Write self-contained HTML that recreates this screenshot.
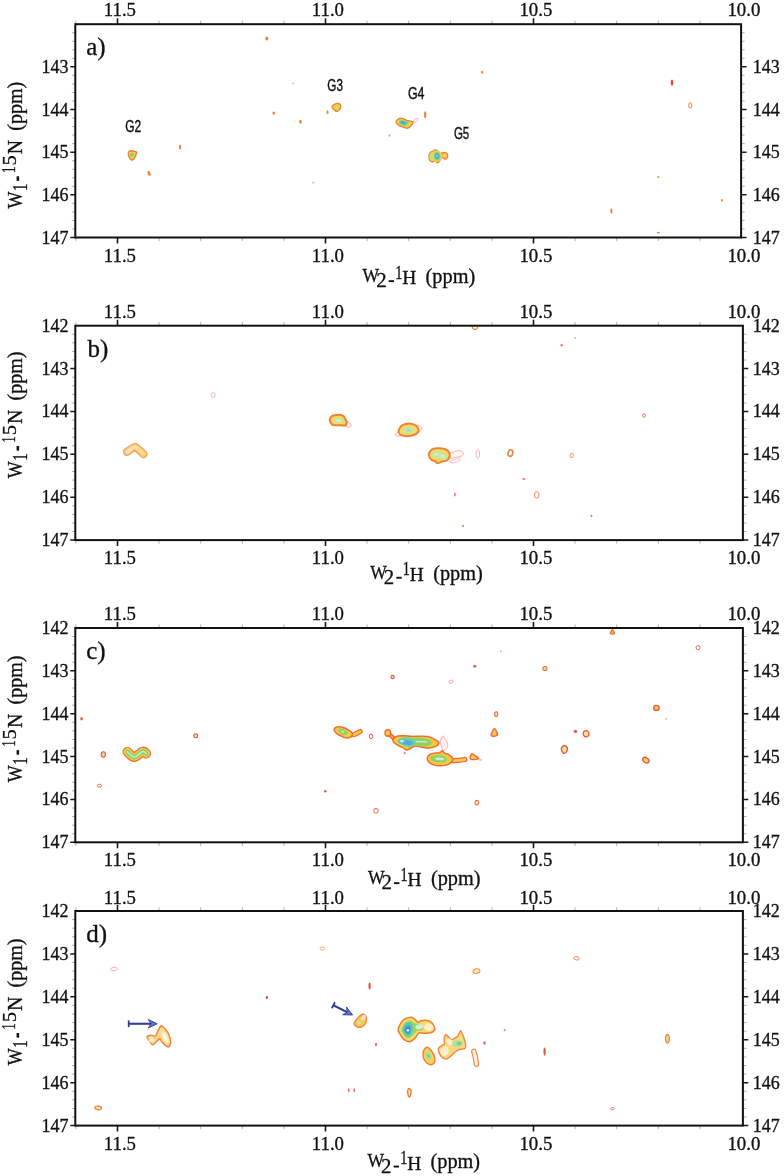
<!DOCTYPE html>
<html><head><meta charset="utf-8"><title>NMR spectra</title>
<style>html,body{margin:0;padding:0;background:#fff;}body{width:784px;height:1176px;overflow:hidden;font-family:"Liberation Serif",serif;}svg{filter:blur(0.35px);}svg text{fill:#111;stroke:#111;stroke-width:0.32px;}</style>
</head><body>
<svg width="784" height="1176" viewBox="0 0 784 1176" fill="#111" style="display:block">
<defs><filter id="pb" x="-5%" y="-5%" width="110%" height="110%"><feGaussianBlur stdDeviation="0.45"/></filter></defs>
<g filter="url(#pb)">
<ellipse cx="266.80" cy="38.60" rx="1.45" ry="2.05" fill="#ee822f" stroke="none" stroke-width="1" opacity="1"/>
<ellipse cx="273.80" cy="113.00" rx="1.35" ry="1.55" fill="#ee822f" stroke="none" stroke-width="1" opacity="1"/>
<ellipse cx="293.20" cy="83.50" rx="0.85" ry="0.95" fill="#c9b8b0" stroke="none" stroke-width="1" opacity="1"/>
<path d="M128.31 154.05C128.21 153.11 128.44 152.17 128.87 151.67C129.30 151.17 130.37 150.78 131.18 150.73C131.98 150.67 133.41 151.08 134.24 151.31C135.06 151.55 136.50 151.59 136.69 152.29C136.88 153.00 135.91 155.01 135.50 156.02C135.08 157.03 134.50 158.45 133.90 159.04C133.31 159.64 132.17 160.13 131.52 159.97C130.87 159.81 130.04 158.87 129.56 157.98C129.08 157.09 128.42 155.00 128.31 154.05Z" fill="#f7cf4e" stroke="#ee822f" stroke-width="1.4" stroke-linejoin="round"/>
<path d="M129.90 154.45C129.85 153.96 130.01 153.49 130.24 153.23C130.47 152.98 131.01 152.77 131.43 152.74C131.85 152.71 132.59 152.93 133.00 153.06C133.42 153.18 134.10 153.23 134.20 153.59C134.30 153.96 133.89 154.97 133.68 155.48C133.47 156.00 133.14 156.72 132.82 157.01C132.51 157.31 131.95 157.54 131.61 157.47C131.27 157.39 130.83 156.97 130.57 156.52C130.32 156.07 129.95 154.94 129.90 154.45Z" fill="#96d672"/>
<path d="M130.90 154.70C130.88 154.48 130.95 154.27 131.05 154.16C131.15 154.05 131.40 153.95 131.58 153.94C131.76 153.93 132.10 154.02 132.28 154.08C132.46 154.14 132.77 154.16 132.81 154.32C132.85 154.48 132.67 154.93 132.58 155.16C132.49 155.39 132.34 155.71 132.20 155.84C132.06 155.97 131.81 156.07 131.66 156.04C131.51 156.01 131.31 155.82 131.20 155.62C131.09 155.42 130.92 154.92 130.90 154.70Z" fill="#6fcf9a"/>
<ellipse cx="180.00" cy="147.00" rx="1.05" ry="2.55" fill="#ee822f" stroke="none" stroke-width="1" opacity="1"/>
<ellipse cx="149.10" cy="173.40" rx="1.45" ry="2.45" fill="#ee822f" stroke="none" stroke-width="1" opacity="1" transform="rotate(-20 149.10 173.40)"/>
<text x="125.20" y="132.00" font-size="16.4" font-family='"Liberation Sans", sans-serif' textLength="16" lengthAdjust="spacingAndGlyphs" style="stroke-width:0.4px">G2</text>
<text x="327.30" y="90.60" font-size="16.4" font-family='"Liberation Sans", sans-serif' textLength="15.6" lengthAdjust="spacingAndGlyphs" style="stroke-width:0.4px">G3</text>
<text x="407.90" y="99.30" font-size="16.4" font-family='"Liberation Sans", sans-serif' textLength="16.6" lengthAdjust="spacingAndGlyphs" style="stroke-width:0.4px">G4</text>
<text x="453.90" y="139.30" font-size="16.4" font-family='"Liberation Sans", sans-serif' textLength="15.4" lengthAdjust="spacingAndGlyphs" style="stroke-width:0.4px">G5</text>
<path d="M332.03 107.03C332.14 106.30 333.52 104.95 334.46 104.42C335.40 103.88 337.38 103.31 338.31 103.46C339.24 103.61 340.40 104.68 340.67 105.44C340.94 106.20 340.69 107.60 340.11 108.54C339.52 109.47 337.71 111.57 336.75 111.67C335.79 111.77 334.41 109.92 333.70 109.22C333.00 108.52 331.92 107.75 332.03 107.03Z" fill="#f7cf4e" stroke="#ee822f" stroke-width="1.4" stroke-linejoin="round"/>
<path d="M334.40 107.12C334.45 106.78 335.05 106.13 335.48 105.88C335.91 105.63 336.85 105.40 337.28 105.48C337.71 105.56 338.21 106.05 338.34 106.40C338.47 106.75 338.39 107.39 338.12 107.82C337.85 108.25 337.01 109.19 336.56 109.24C336.11 109.29 335.44 108.48 335.12 108.16C334.80 107.84 334.35 107.46 334.40 107.12Z" fill="#b6e08a"/>
<ellipse cx="327.50" cy="112.20" rx="0.95" ry="1.85" fill="#ee822f" stroke="none" stroke-width="1" opacity="1"/>
<ellipse cx="300.40" cy="121.70" rx="1.25" ry="2.05" fill="#ee822f" stroke="none" stroke-width="1" opacity="1"/>
<ellipse cx="482.20" cy="72.30" rx="1.05" ry="1.55" fill="#ee822f" stroke="none" stroke-width="1" opacity="1"/>
<path d="M396.03 122.14C395.89 121.23 397.11 119.83 398.02 119.25C398.94 118.68 400.82 118.16 402.13 118.32C403.44 118.48 405.13 119.75 406.76 120.33C408.39 120.90 412.43 121.23 412.97 122.13C413.51 123.03 411.24 125.38 410.34 126.32C409.43 127.25 408.06 128.30 406.94 128.38C405.83 128.46 404.12 127.32 402.91 126.87C401.71 126.42 399.96 126.06 398.92 125.35C397.89 124.64 396.16 123.06 396.03 122.14Z" fill="#f7cf4e" stroke="#ee822f" stroke-width="1.4" stroke-linejoin="round"/>
<path d="M398.44 122.30C398.36 121.69 399.11 120.78 399.70 120.38C400.29 119.98 401.52 119.56 402.40 119.66C403.28 119.76 404.54 120.64 405.58 121.04C406.62 121.44 409.04 121.71 409.36 122.30C409.68 122.89 408.31 124.39 407.74 125.00C407.17 125.61 406.30 126.30 405.58 126.38C404.86 126.46 403.74 125.83 402.94 125.54C402.14 125.25 400.92 124.95 400.24 124.46C399.56 123.97 398.52 122.91 398.44 122.30Z" fill="#96d672"/>
<path d="M399.96 122.40C399.91 121.99 400.40 121.38 400.80 121.12C401.20 120.86 402.01 120.57 402.60 120.64C403.19 120.71 404.02 121.30 404.72 121.56C405.42 121.82 407.02 122.00 407.24 122.40C407.46 122.80 406.54 123.79 406.16 124.20C405.78 124.61 405.20 125.07 404.72 125.12C404.24 125.17 403.49 124.75 402.96 124.56C402.43 124.37 401.61 124.16 401.16 123.84C400.71 123.52 400.01 122.81 399.96 122.40Z" fill="#52c8b4"/>
<path d="M401.48 122.50C401.45 122.30 401.70 121.99 401.90 121.86C402.10 121.73 402.51 121.59 402.80 121.62C403.09 121.65 403.51 121.95 403.86 122.08C404.21 122.21 405.01 122.30 405.12 122.50C405.23 122.70 404.77 123.20 404.58 123.40C404.39 123.60 404.10 123.83 403.86 123.86C403.62 123.89 403.25 123.68 402.98 123.58C402.71 123.48 402.31 123.38 402.08 123.22C401.85 123.06 401.51 122.70 401.48 122.50Z" fill="#4a9ae0"/>
<ellipse cx="415.80" cy="120.40" rx="2.70" ry="1.40" fill="none" stroke="#f29aa6" stroke-width="0.7" opacity="1" transform="rotate(-35 415.80 120.40)"/>
<ellipse cx="425.20" cy="114.80" rx="1.15" ry="3.55" fill="#ee822f" stroke="none" stroke-width="1" opacity="1"/>
<ellipse cx="389.50" cy="135.50" rx="0.95" ry="1.25" fill="#f29aa6" stroke="none" stroke-width="1" opacity="1"/>
<path d="M428.98 155.73C429.05 154.64 429.84 152.98 430.43 152.35C431.02 151.72 432.73 151.38 433.41 151.02C434.09 150.66 434.91 149.61 435.54 149.63C436.17 149.66 437.50 150.71 438.14 151.18C438.77 151.66 439.61 152.99 440.29 153.20C440.97 153.40 442.44 152.78 443.22 152.74C444.01 152.70 445.56 152.59 446.16 152.93C446.76 153.26 447.65 154.50 447.72 155.26C447.78 156.02 447.05 158.12 446.64 158.63C446.23 159.14 445.27 159.26 444.67 159.05C444.07 158.84 442.71 156.96 442.13 157.06C441.55 157.16 440.93 159.01 440.33 159.78C439.74 160.55 438.34 162.68 437.67 162.82C437.00 162.96 436.04 160.94 435.33 160.81C434.61 160.69 433.05 161.94 432.33 161.90C431.61 161.86 430.37 161.36 429.92 160.53C429.47 159.71 428.92 156.82 428.98 155.73Z" fill="#f7b84a" stroke="#ee822f" stroke-width="1.3" stroke-linejoin="round"/>
<ellipse cx="444.60" cy="155.40" rx="2.40" ry="2.00" fill="#f9cc5a" stroke="none" stroke-width="1" opacity="1"/>
<ellipse cx="436.20" cy="156.20" rx="6.00" ry="5.60" fill="#f7cf4e" stroke="none" stroke-width="1" opacity="1"/>
<ellipse cx="431.60" cy="156.80" rx="2.20" ry="4.00" fill="#c8e070" stroke="none" stroke-width="1" opacity="1"/>
<ellipse cx="437.20" cy="156.20" rx="3.40" ry="4.40" fill="#96d672" stroke="none" stroke-width="1" opacity="1"/>
<ellipse cx="437.20" cy="156.20" rx="2.50" ry="3.40" fill="#52c8b4" stroke="none" stroke-width="1" opacity="1"/>
<ellipse cx="437.00" cy="156.20" rx="1.60" ry="2.30" fill="#4a9ae0" stroke="none" stroke-width="1" opacity="1"/>
<ellipse cx="437.00" cy="156.20" rx="0.70" ry="0.90" fill="#d8ecff" stroke="none" stroke-width="1" opacity="1"/>
<ellipse cx="313.20" cy="182.70" rx="0.85" ry="0.95" fill="#f29aa6" stroke="none" stroke-width="1" opacity="1"/>
<ellipse cx="672.00" cy="82.60" rx="1.35" ry="3.05" fill="#e8502e" stroke="none" stroke-width="1" opacity="1"/>
<ellipse cx="690.30" cy="105.40" rx="1.60" ry="2.70" fill="none" stroke="#ee822f" stroke-width="1.0" opacity="1"/>
<ellipse cx="658.30" cy="176.90" rx="1.05" ry="0.95" fill="#ee822f" stroke="none" stroke-width="1" opacity="1"/>
<ellipse cx="722.00" cy="200.30" rx="0.95" ry="1.35" fill="#ee822f" stroke="none" stroke-width="1" opacity="1"/>
<ellipse cx="611.40" cy="211.00" rx="1.05" ry="2.75" fill="#ee822f" stroke="none" stroke-width="1" opacity="1"/>
<ellipse cx="658.30" cy="232.60" rx="1.45" ry="0.85" fill="#ee822f" stroke="none" stroke-width="1" opacity="1"/>
<path d="M127.20 451.80C128.00 451.32 133.58 446.78 135.20 447.00C136.82 447.22 142.58 453.30 143.40 454.00" fill="none" stroke="#f29a5e" stroke-width="8.2" stroke-linecap="round" stroke-linejoin="round"/>
<path d="M127.20 451.80C128.00 451.32 133.58 446.78 135.20 447.00C136.82 447.22 142.58 453.30 143.40 454.00" fill="none" stroke="#f9cf88" stroke-width="5.8" stroke-linecap="round" stroke-linejoin="round"/>
<path d="M127.20 451.80C128.00 451.32 133.58 446.78 135.20 447.00C136.82 447.22 142.58 453.30 143.40 454.00" fill="none" stroke="#fde2ac" stroke-width="3.0" stroke-linecap="round" stroke-linejoin="round"/>
<path d="M139.50 450.40C140.15 450.97 142.75 453.23 143.40 453.80" fill="none" stroke="#f9d070" stroke-width="4.6" stroke-linecap="round" stroke-linejoin="round"/>
<path d="M139.50 450.40C140.15 450.97 142.75 453.23 143.40 453.80" fill="none" stroke="#fde09a" stroke-width="2.2" stroke-linecap="round" stroke-linejoin="round"/>
<ellipse cx="213.20" cy="395.00" rx="1.90" ry="2.40" fill="none" stroke="#f29aa6" stroke-width="0.8" opacity="1"/>
<path d="M345.60 421.00C346.33 420.63 348.07 421.77 349.00 422.40C349.93 423.03 351.03 424.05 351.20 424.80C351.37 425.55 350.80 426.57 350.00 426.90C349.20 427.23 347.30 427.18 346.40 426.80C345.50 426.42 344.73 425.57 344.60 424.60C344.47 423.63 344.87 421.37 345.60 421.00Z" fill="#fff6ee" stroke="#f29aa6" stroke-width="0.9" stroke-linecap="round"/>
<path d="M329.88 418.88C330.12 417.72 331.19 416.49 332.22 415.84C333.25 415.20 334.77 415.22 336.06 415.02C337.35 414.83 338.75 414.52 339.98 414.67C341.21 414.82 342.52 415.15 343.45 415.92C344.37 416.68 344.97 418.13 345.52 419.27C346.06 420.41 346.74 421.75 346.73 422.77C346.72 423.79 346.08 424.94 345.46 425.39C344.84 425.83 344.22 425.47 342.99 425.44C341.76 425.41 339.70 425.24 338.08 425.20C336.46 425.16 334.49 425.61 333.28 425.20C332.06 424.80 331.33 423.81 330.77 422.76C330.20 421.70 329.64 420.03 329.88 418.88Z" fill="#f9d864" stroke="#ee8236" stroke-width="2.0" stroke-linejoin="round"/>
<ellipse cx="338.60" cy="420.70" rx="5.00" ry="2.50" fill="#c2e6a4" stroke="none" stroke-width="1" opacity="1"/>
<ellipse cx="338.60" cy="420.70" rx="2.80" ry="1.00" fill="#dcf2d0" stroke="none" stroke-width="1" opacity="1"/>
<path d="M395.30 435.20C395.30 434.53 397.72 432.12 399.00 432.00C400.28 431.88 403.00 433.83 403.00 434.50C403.00 435.17 400.28 435.88 399.00 436.00C397.72 436.12 395.30 435.87 395.30 435.20Z" fill="none" stroke="#f29aa6" stroke-width="0.8" stroke-linecap="round"/>
<path d="M416.00 425.40C416.75 424.43 419.53 425.60 420.50 426.20C421.47 426.80 422.05 428.03 421.80 429.00C421.55 429.97 419.97 431.50 419.00 432.00C418.03 432.50 416.50 433.10 416.00 432.00C415.50 430.90 415.25 426.37 416.00 425.40Z" fill="#fff6ee" stroke="#f29aa6" stroke-width="0.8" stroke-linecap="round"/>
<path d="M398.49 431.39C398.60 430.03 399.66 427.63 400.81 426.39C401.96 425.16 403.76 424.46 405.41 424.00C407.06 423.54 409.00 423.41 410.72 423.66C412.45 423.91 414.42 424.51 415.75 425.49C417.08 426.48 418.56 428.20 418.70 429.56C418.84 430.92 417.91 432.61 416.57 433.64C415.24 434.68 412.69 435.35 410.68 435.76C408.67 436.16 406.26 436.26 404.51 436.06C402.77 435.87 401.20 435.36 400.20 434.58C399.19 433.81 398.39 432.76 398.49 431.39Z" fill="#f9d864" stroke="#ee8236" stroke-width="2.0" stroke-linejoin="round"/>
<path d="M403.54 430.80C403.59 430.11 404.08 428.90 404.64 428.27C405.21 427.63 406.10 427.23 406.94 426.98C407.79 426.73 408.82 426.66 409.70 426.80C410.59 426.93 411.57 427.29 412.23 427.81C412.89 428.32 413.59 429.19 413.66 429.88C413.73 430.57 413.31 431.40 412.65 431.95C411.99 432.49 410.73 432.93 409.70 433.14C408.68 433.36 407.37 433.36 406.48 433.24C405.59 433.11 404.86 432.81 404.37 432.41C403.88 432.00 403.49 431.49 403.54 430.80Z" fill="#c2e6a4"/>
<path d="M406.40 430.46C406.42 430.16 406.63 429.64 406.88 429.36C407.13 429.08 407.51 428.91 407.88 428.80C408.25 428.69 408.70 428.66 409.08 428.72C409.46 428.78 409.89 428.94 410.18 429.16C410.47 429.38 410.77 429.76 410.80 430.06C410.83 430.36 410.65 430.72 410.36 430.96C410.07 431.20 409.53 431.39 409.08 431.48C408.63 431.57 408.07 431.57 407.68 431.52C407.29 431.47 406.97 431.34 406.76 431.16C406.55 430.98 406.38 430.76 406.40 430.46Z" fill="#a8dcc0"/>
<path d="M450.00 453.50C450.50 452.38 452.58 452.28 454.00 451.80C455.42 451.32 457.10 450.60 458.50 450.60C459.90 450.60 461.62 451.13 462.40 451.80C463.18 452.47 463.60 453.77 463.20 454.60C462.80 455.43 461.37 456.33 460.00 456.80C458.63 457.27 456.50 457.12 455.00 457.40C453.50 457.68 451.83 459.15 451.00 458.50C450.17 457.85 449.50 454.62 450.00 453.50Z" fill="#fff6ee" stroke="#f29aa6" stroke-width="0.8" stroke-linecap="round"/>
<path d="M450.00 461.50C450.40 460.97 452.57 460.28 454.00 459.80C455.43 459.32 457.53 458.57 458.60 458.60C459.67 458.63 460.83 459.43 460.40 460.00C459.97 460.57 457.47 461.50 456.00 462.00C454.53 462.50 452.60 463.08 451.60 463.00C450.60 462.92 449.60 462.03 450.00 461.50Z" fill="none" stroke="#f29aa6" stroke-width="0.7" stroke-linecap="round"/>
<path d="M428.90 455.02C428.77 453.55 429.47 451.88 430.40 450.80C431.34 449.72 432.93 448.95 434.52 448.54C436.10 448.12 438.10 448.18 439.91 448.30C441.71 448.41 443.82 448.54 445.35 449.23C446.89 449.92 448.44 451.17 449.13 452.44C449.83 453.71 449.89 455.52 449.51 456.86C449.13 458.20 448.17 459.70 446.86 460.49C445.55 461.27 443.19 461.09 441.67 461.56C440.16 462.03 438.85 463.37 437.76 463.31C436.66 463.26 436.20 461.88 435.10 461.25C434.01 460.63 432.22 460.61 431.19 459.57C430.16 458.53 429.03 456.48 428.90 455.02Z" fill="#f9d864" stroke="#ee8236" stroke-width="2.0" stroke-linejoin="round"/>
<ellipse cx="436.20" cy="454.40" rx="4.20" ry="3.60" fill="#c2e6a4" stroke="none" stroke-width="1" opacity="1" transform="rotate(10 436.20 454.40)"/>
<ellipse cx="442.60" cy="456.00" rx="4.20" ry="3.50" fill="#c2e6a4" stroke="none" stroke-width="1" opacity="1" transform="rotate(10 442.60 456.00)"/>
<ellipse cx="436.40" cy="454.40" rx="1.80" ry="1.40" fill="#d8f0d0" stroke="none" stroke-width="1" opacity="1"/>
<ellipse cx="442.80" cy="456.00" rx="1.80" ry="1.40" fill="#d8f0d0" stroke="none" stroke-width="1" opacity="1"/>
<path d="M472.2 326.6 A2.8 2.8 0 0 0 477.8 326.6" fill="none" stroke="#ee8a3a" stroke-width="1.1"/>
<ellipse cx="561.70" cy="345.20" rx="1.25" ry="1.25" fill="#ee7a6a" stroke="none" stroke-width="1" opacity="1"/>
<ellipse cx="575.30" cy="337.90" rx="0.85" ry="0.85" fill="#f29aa6" stroke="none" stroke-width="1" opacity="1"/>
<ellipse cx="643.90" cy="415.50" rx="1.40" ry="1.80" fill="none" stroke="#e5583a" stroke-width="0.8" opacity="1"/>
<ellipse cx="477.80" cy="454.00" rx="1.80" ry="4.20" fill="none" stroke="#f29aa6" stroke-width="0.8" opacity="1"/>
<ellipse cx="510.40" cy="453.10" rx="2.30" ry="3.30" fill="none" stroke="#e8803a" stroke-width="1.5" opacity="1" transform="rotate(15 510.40 453.10)"/>
<ellipse cx="571.60" cy="455.50" rx="1.60" ry="2.20" fill="none" stroke="#ee7a6a" stroke-width="0.8" opacity="1" transform="rotate(15 571.60 455.50)"/>
<ellipse cx="523.90" cy="479.00" rx="1.55" ry="0.95" fill="#ee7a6a" stroke="none" stroke-width="1" opacity="1"/>
<ellipse cx="536.70" cy="494.90" rx="2.30" ry="3.30" fill="none" stroke="#ee7a5a" stroke-width="0.9" opacity="1"/>
<ellipse cx="454.90" cy="494.50" rx="0.85" ry="1.95" fill="#ee7a6a" stroke="none" stroke-width="1" opacity="1"/>
<ellipse cx="591.40" cy="515.90" rx="1.05" ry="1.15" fill="#ee7a6a" stroke="none" stroke-width="1" opacity="1"/>
<ellipse cx="463.00" cy="526.10" rx="1.05" ry="1.15" fill="#ee7a6a" stroke="none" stroke-width="1" opacity="1"/>
<ellipse cx="81.50" cy="718.80" rx="1.25" ry="1.75" fill="#e5583a" stroke="none" stroke-width="1" opacity="1"/>
<ellipse cx="103.30" cy="754.50" rx="2.15" ry="2.75" fill="#fbd2a8" stroke="#e5583a" stroke-width="1.1" opacity="1"/>
<ellipse cx="99.40" cy="785.70" rx="2.00" ry="1.50" fill="none" stroke="#e5583a" stroke-width="0.9" opacity="1"/>
<path d="M127.40 751.80C128.53 752.67 131.67 757.03 134.20 757.00C136.73 756.97 140.60 752.17 142.60 751.60C144.60 751.03 145.60 753.27 146.20 753.60" fill="none" stroke="#ec6a34" stroke-width="9.8" stroke-linecap="round" stroke-linejoin="round"/>
<path d="M127.40 751.80C128.53 752.67 131.67 757.03 134.20 757.00C136.73 756.97 140.60 752.17 142.60 751.60C144.60 751.03 145.60 753.27 146.20 753.60" fill="none" stroke="#f6c93f" stroke-width="7.6" stroke-linecap="round" stroke-linejoin="round"/>
<path d="M127.40 751.80C128.53 752.67 131.67 757.03 134.20 757.00C136.73 756.97 140.60 752.17 142.60 751.60C144.60 751.03 145.60 753.27 146.20 753.60" fill="none" stroke="#8fd16a" stroke-width="4.8" stroke-linecap="round" stroke-linejoin="round"/>
<path d="M127.40 751.80C128.53 752.67 131.67 757.03 134.20 757.00C136.73 756.97 140.60 752.17 142.60 751.60C144.60 751.03 145.60 753.27 146.20 753.60" fill="none" stroke="#c6ecc4" stroke-width="1.6" stroke-linecap="round" stroke-linejoin="round"/>
<ellipse cx="195.70" cy="735.80" rx="1.95" ry="1.95" fill="#fde4d0" stroke="#e5583a" stroke-width="1.1" opacity="1"/>
<ellipse cx="392.60" cy="677.00" rx="1.65" ry="1.65" fill="#fde4d0" stroke="#e5583a" stroke-width="1.1" opacity="1"/>
<path d="M338.40 729.60C339.55 730.21 344.92 733.53 347.00 734.20C349.08 734.87 352.24 734.97 354.00 734.60C355.76 734.23 359.37 731.83 360.20 731.40" fill="none" stroke="#ec6a34" stroke-width="5.0" stroke-linecap="round" stroke-linejoin="round"/>
<path d="M338.40 729.60C339.55 730.21 344.92 733.53 347.00 734.20C349.08 734.87 352.24 734.97 354.00 734.60C355.76 734.23 359.37 731.83 360.20 731.40" fill="none" stroke="#f6c93f" stroke-width="2.8" stroke-linecap="round" stroke-linejoin="round"/>
<path d="M334.01 729.55C334.09 728.45 335.73 727.20 337.08 726.81C338.42 726.43 340.35 726.82 342.08 727.23C343.80 727.64 345.78 728.39 347.43 729.27C349.08 730.16 351.30 731.37 351.97 732.54C352.64 733.71 352.33 735.38 351.44 736.30C350.56 737.23 348.37 738.08 346.66 738.07C344.95 738.05 342.86 736.97 341.19 736.20C339.51 735.42 337.80 734.53 336.60 733.42C335.41 732.31 333.93 730.65 334.01 729.55Z" fill="#f6c93f" stroke="#ec6a34" stroke-width="1.4" stroke-linejoin="round"/>
<path d="M338.00 730.50C338.05 729.90 338.88 729.23 339.60 729.00C340.32 728.77 341.35 728.88 342.30 729.10C343.25 729.32 344.42 729.80 345.30 730.30C346.18 730.80 347.27 731.47 347.60 732.10C347.93 732.73 347.77 733.60 347.30 734.10C346.83 734.60 345.72 735.08 344.80 735.10C343.88 735.12 342.72 734.62 341.80 734.20C340.88 733.78 339.93 733.22 339.30 732.60C338.67 731.98 337.95 731.10 338.00 730.50Z" fill="#8fd16a"/>
<path d="M341.13 731.25C341.14 731.06 341.41 730.84 341.64 730.77C341.87 730.69 342.20 730.73 342.50 730.80C342.81 730.87 343.18 731.02 343.46 731.18C343.75 731.34 344.09 731.56 344.20 731.76C344.31 731.96 344.25 732.24 344.10 732.40C343.95 732.56 343.60 732.71 343.30 732.72C343.01 732.73 342.64 732.57 342.34 732.43C342.05 732.30 341.75 732.12 341.54 731.92C341.34 731.72 341.11 731.44 341.13 731.25Z" fill="#d0efc8"/>
<ellipse cx="371.00" cy="736.40" rx="1.70" ry="2.40" fill="none" stroke="#e5583a" stroke-width="1.0" opacity="1"/>
<ellipse cx="325.30" cy="791.20" rx="1.25" ry="1.25" fill="#e5583a" stroke="none" stroke-width="1" opacity="1"/>
<ellipse cx="376.00" cy="810.80" rx="2.20" ry="2.40" fill="none" stroke="#e8603a" stroke-width="1.0" opacity="1"/>
<path d="M441.50 738.00C442.07 736.97 442.88 735.70 443.40 735.80C443.92 735.90 444.07 737.73 444.60 738.60C445.13 739.47 446.07 739.87 446.60 741.00C447.13 742.13 447.90 744.00 447.80 745.40C447.70 746.80 446.80 748.63 446.00 749.40C445.20 750.17 443.77 750.57 443.00 750.00C442.23 749.43 441.90 747.33 441.40 746.00C440.90 744.67 439.98 743.33 440.00 742.00C440.02 740.67 440.93 739.03 441.50 738.00Z" fill="#fdeef0" stroke="#f6a8b0" stroke-width="0.9" stroke-linecap="round"/>
<path d="M387.80 733.00C388.18 733.34 390.83 735.75 391.60 736.40C392.37 737.05 395.11 739.19 395.50 739.50" fill="none" stroke="#ec6a34" stroke-width="4.4" stroke-linecap="round" stroke-linejoin="round"/>
<path d="M387.80 733.00C388.18 733.34 390.83 735.75 391.60 736.40C392.37 737.05 395.11 739.19 395.50 739.50" fill="none" stroke="#f6b040" stroke-width="1.6" stroke-linecap="round" stroke-linejoin="round"/>
<ellipse cx="387.80" cy="733.00" rx="3.50" ry="3.90" fill="#ec6a34" stroke="none" stroke-width="1" opacity="1"/>
<ellipse cx="387.80" cy="733.00" rx="2.20" ry="2.60" fill="#f8c850" stroke="none" stroke-width="1" opacity="1"/>
<path d="M393.03 741.04C392.76 739.68 394.02 737.66 395.61 736.77C397.20 735.88 399.78 735.76 402.56 735.69C405.34 735.62 409.29 736.29 412.30 736.35C415.31 736.42 418.08 736.07 420.60 736.09C423.12 736.11 425.30 736.04 427.43 736.48C429.56 736.92 431.46 737.70 433.38 738.72C435.30 739.74 438.64 741.30 438.97 742.59C439.30 743.88 436.98 745.58 435.38 746.47C433.79 747.37 431.73 747.84 429.42 747.96C427.10 748.08 423.96 747.50 421.51 747.20C419.06 746.91 416.58 745.96 414.72 746.18C412.87 746.40 411.71 747.88 410.40 748.51C409.09 749.15 408.11 750.11 406.87 749.98C405.63 749.85 404.59 748.59 402.98 747.75C401.37 746.90 398.88 746.03 397.22 744.91C395.57 743.79 393.30 742.39 393.03 741.04Z" fill="#f6c93f" stroke="#ec6a34" stroke-width="1.4" stroke-linejoin="round"/>
<path d="M398.45 741.34C398.26 740.33 399.17 738.84 400.32 738.17C401.47 737.50 403.32 737.40 405.36 737.30C407.40 737.21 410.28 737.57 412.56 737.59C414.84 737.62 417.12 737.40 419.04 737.45C420.96 737.50 422.52 737.52 424.08 737.88C425.64 738.24 427.01 738.84 428.40 739.61C429.79 740.38 432.19 741.53 432.43 742.49C432.67 743.45 430.99 744.70 429.84 745.37C428.69 746.04 427.20 746.40 425.52 746.52C423.84 746.64 421.61 746.26 419.76 746.09C417.91 745.92 415.87 745.34 414.43 745.51C412.99 745.68 412.10 746.66 411.12 747.10C410.14 747.53 409.44 748.22 408.53 748.10C407.62 747.98 406.82 747.02 405.65 746.38C404.47 745.73 402.67 745.06 401.47 744.22C400.27 743.38 398.64 742.34 398.45 741.34Z" fill="#8fd16a"/>
<ellipse cx="406.60" cy="742.00" rx="9.00" ry="3.70" fill="#5cccbc" stroke="none" stroke-width="1" opacity="1" transform="rotate(6 406.60 742.00)"/>
<ellipse cx="407.40" cy="742.60" rx="5.20" ry="2.20" fill="#55a6e8" stroke="none" stroke-width="1" opacity="1" transform="rotate(8 407.40 742.60)"/>
<ellipse cx="402.00" cy="741.20" rx="2.20" ry="1.00" fill="#d8f4f0" stroke="none" stroke-width="1" opacity="1" transform="rotate(10 402.00 741.20)"/>
<path d="M416.00 741.60C417.75 741.63 424.75 741.77 426.50 741.80" fill="none" stroke="#d6f0d0" stroke-width="1.2" stroke-linecap="round" stroke-linejoin="round"/>
<ellipse cx="404.70" cy="753.20" rx="1.05" ry="1.15" fill="#f07a8a" stroke="none" stroke-width="1" opacity="1"/>
<path d="M450.00 760.60C450.90 760.58 457.52 760.52 459.00 760.40C460.48 760.28 464.22 759.50 464.80 759.40" fill="none" stroke="#ec6a34" stroke-width="5.2" stroke-linecap="round" stroke-linejoin="round"/>
<path d="M450.00 760.60C450.90 760.58 457.52 760.52 459.00 760.40C460.48 760.28 464.22 759.50 464.80 759.40" fill="none" stroke="#f8c850" stroke-width="2.8" stroke-linecap="round" stroke-linejoin="round"/>
<path d="M427.23 758.61C427.23 757.32 428.05 755.76 429.18 754.84C430.31 753.91 432.32 753.41 434.01 753.08C435.71 752.74 438.00 753.21 439.36 752.83C440.72 752.45 441.27 750.75 442.17 750.79C443.07 750.82 443.61 752.37 444.75 753.05C445.90 753.72 447.68 753.90 449.01 754.83C450.35 755.76 452.44 757.34 452.77 758.61C453.10 759.87 452.14 761.32 451.00 762.42C449.86 763.51 447.78 764.61 445.94 765.17C444.09 765.73 441.91 765.79 439.92 765.78C437.93 765.76 435.78 765.64 433.99 765.11C432.20 764.57 430.31 763.66 429.19 762.57C428.06 761.49 427.23 759.90 427.23 758.61Z" fill="#f6c93f" stroke="#ec6a34" stroke-width="1.4" stroke-linejoin="round"/>
<ellipse cx="438.80" cy="758.80" rx="8.40" ry="3.80" fill="#8fd16a" stroke="none" stroke-width="1" opacity="1" transform="rotate(4 438.80 758.80)"/>
<ellipse cx="439.60" cy="758.90" rx="4.60" ry="1.40" fill="#cdeec8" stroke="none" stroke-width="1" opacity="1" transform="rotate(4 439.60 758.90)"/>
<path d="M478.00 758.40C478.27 758.23 481.27 759.23 481.60 759.60C481.93 759.97 480.60 760.80 480.00 760.60C479.40 760.40 477.73 758.57 478.00 758.40Z" fill="none" stroke="#f29aa6" stroke-width="0.8" stroke-linecap="round"/>
<path d="M470.03 757.40C470.12 756.74 471.33 753.99 471.87 753.77C472.41 753.55 473.88 754.97 474.68 755.54C475.49 756.11 478.88 758.18 478.79 758.65C478.70 759.12 474.81 759.49 473.91 759.58C473.01 759.66 471.54 759.66 471.09 759.41C470.64 759.15 469.94 758.06 470.03 757.40Z" fill="#f8c850" stroke="#ec6a34" stroke-width="1.4" stroke-linejoin="round"/>
<path d="M612.40 629.63C612.93 629.63 614.40 632.80 614.40 633.40C614.40 634.01 612.93 634.17 612.40 634.17C611.87 634.17 610.40 634.01 610.40 633.40C610.40 632.80 611.87 629.63 612.40 629.63Z" fill="#f8c850" stroke="#ec6a34" stroke-width="1.4" stroke-linejoin="round"/>
<ellipse cx="698.00" cy="647.60" rx="2.00" ry="2.10" fill="none" stroke="#ee6a6a" stroke-width="1.0" opacity="1"/>
<ellipse cx="500.80" cy="651.40" rx="0.85" ry="0.95" fill="#f29aa6" stroke="none" stroke-width="1" opacity="1"/>
<ellipse cx="474.80" cy="666.30" rx="1.55" ry="1.25" fill="#e5583a" stroke="none" stroke-width="1" opacity="1"/>
<ellipse cx="545.00" cy="668.50" rx="2.05" ry="2.05" fill="#fbe0a0" stroke="#e8703a" stroke-width="1.1" opacity="1"/>
<ellipse cx="450.90" cy="681.70" rx="2.30" ry="1.40" fill="none" stroke="#f29aa6" stroke-width="0.8" opacity="1" transform="rotate(-20 450.90 681.70)"/>
<ellipse cx="496.20" cy="714.20" rx="1.55" ry="2.45" fill="#fbe0c0" stroke="#e8703a" stroke-width="1.1" opacity="1"/>
<path d="M494.56 728.43C495.28 728.47 497.41 733.25 497.58 734.12C497.74 734.99 496.70 735.71 496.01 735.91C495.32 736.10 492.22 736.05 491.69 735.80C491.15 735.55 491.09 734.64 491.43 733.78C491.77 732.92 493.84 728.39 494.56 728.43Z" fill="#f8c850" stroke="#ec6a34" stroke-width="1.4" stroke-linejoin="round"/>
<ellipse cx="656.40" cy="707.90" rx="2.70" ry="2.50" fill="#f8c850" stroke="#e8603a" stroke-width="1.4" opacity="1"/>
<ellipse cx="666.00" cy="718.80" rx="0.85" ry="1.05" fill="#e8a0c0" stroke="none" stroke-width="1" opacity="1"/>
<ellipse cx="575.40" cy="731.40" rx="1.85" ry="1.65" fill="#e86070" stroke="none" stroke-width="1" opacity="1"/>
<ellipse cx="586.10" cy="733.80" rx="2.85" ry="3.05" fill="#fce4a4" stroke="#e5583a" stroke-width="1.3" opacity="1" transform="rotate(-20 586.10 733.80)"/>
<path d="M564.32 745.43C565.17 745.43 566.87 747.06 567.25 747.90C567.63 748.75 567.27 750.24 566.87 751.06C566.47 751.88 565.32 753.37 564.57 753.37C563.83 753.37 562.38 751.88 561.93 751.06C561.48 750.24 561.20 748.75 561.55 747.90C561.91 747.06 563.46 745.43 564.32 745.43Z" fill="#fce4a4" stroke="#e5583a" stroke-width="1.4" stroke-linejoin="round"/>
<ellipse cx="645.90" cy="760.20" rx="3.45" ry="2.45" fill="#f8d070" stroke="#e5583a" stroke-width="1.3" opacity="1" transform="rotate(35 645.90 760.20)"/>
<ellipse cx="476.90" cy="802.70" rx="1.80" ry="2.40" fill="#fde4d0" stroke="#e8603a" stroke-width="1.0" opacity="1" transform="rotate(15 476.90 802.70)"/>
<ellipse cx="113.90" cy="969.00" rx="3.30" ry="1.80" fill="none" stroke="#f29aa6" stroke-width="0.8" opacity="1" transform="rotate(-10 113.90 969.00)"/>
<ellipse cx="322.30" cy="948.50" rx="2.30" ry="1.60" fill="none" stroke="#f2a860" stroke-width="0.9" opacity="1"/>
<ellipse cx="369.60" cy="986.00" rx="1.15" ry="3.55" fill="#e5583a" stroke="none" stroke-width="1" opacity="1"/>
<ellipse cx="266.90" cy="997.50" rx="1.15" ry="1.65" fill="#e5583a" stroke="none" stroke-width="1" opacity="1"/>
<ellipse cx="376.00" cy="1044.40" rx="0.95" ry="1.75" fill="#e5583a" stroke="none" stroke-width="1" opacity="1"/>
<ellipse cx="348.75" cy="1090.20" rx="0.85" ry="1.95" fill="#ee6a6a" stroke="none" stroke-width="1" opacity="1"/>
<ellipse cx="354.20" cy="1090.20" rx="0.85" ry="1.95" fill="#ee6a6a" stroke="none" stroke-width="1" opacity="1"/>
<ellipse cx="98.20" cy="1107.90" rx="3.40" ry="1.80" fill="#fde0b0" stroke="#ee7a3a" stroke-width="1.2" opacity="1" transform="rotate(10 98.20 1107.90)"/>
<path d="M128.70 1023.75L154.20 1023.75" stroke="#323f94" stroke-width="2.1" fill="none"/>
<path d="M128.70 1027.15L128.70 1020.35" stroke="#323f94" stroke-width="1.8"/>
<path d="M157.20 1023.75L148.20 1028.05L151.20 1023.75L148.20 1019.45Z" fill="#6470c4" stroke="#323f94" stroke-width="0.9" stroke-linejoin="miter"/>
<path d="M333.40 1005.20L349.93 1013.64" stroke="#323f94" stroke-width="2.1" fill="none"/>
<path d="M331.85 1008.23L334.95 1002.17" stroke="#323f94" stroke-width="1.8"/>
<path d="M352.60 1015.00L342.63 1014.74L347.26 1012.27L346.54 1007.08Z" fill="#6470c4" stroke="#323f94" stroke-width="0.9" stroke-linejoin="miter"/>
<path d="M161.04 1025.73C161.90 1025.43 164.26 1028.08 165.09 1028.95C165.92 1029.81 167.59 1032.07 168.16 1033.12C168.73 1034.18 169.67 1036.88 169.97 1038.00C170.27 1039.13 170.88 1041.71 170.72 1042.75C170.57 1043.79 169.31 1046.68 168.66 1046.95C168.01 1047.22 165.93 1045.69 165.12 1045.09C164.32 1044.50 162.38 1042.56 161.73 1041.83C161.08 1041.10 160.21 1038.80 159.56 1038.82C158.90 1038.85 156.95 1041.35 156.13 1042.04C155.32 1042.74 153.37 1044.95 152.56 1044.77C151.76 1044.60 149.87 1041.49 149.21 1040.56C148.56 1039.62 146.72 1037.40 146.93 1036.76C147.14 1036.13 150.01 1035.18 151.00 1035.10C151.98 1035.02 154.59 1036.47 155.38 1036.05C156.16 1035.63 157.04 1032.70 157.70 1031.50C158.36 1030.29 160.18 1026.02 161.04 1025.73Z" fill="#fbd890" stroke="#ee8238" stroke-width="1.4" stroke-linejoin="round"/>
<ellipse cx="165.20" cy="1037.20" rx="3.40" ry="7.60" fill="#fce2a8" stroke="none" stroke-width="1" opacity="1" transform="rotate(-22 165.20 1037.20)"/>
<ellipse cx="165.20" cy="1037.20" rx="2.00" ry="5.80" fill="#fef4e0" stroke="none" stroke-width="1" opacity="1" transform="rotate(-22 165.20 1037.20)"/>
<ellipse cx="151.60" cy="1039.60" rx="3.00" ry="3.20" fill="#fce2a8" stroke="none" stroke-width="1" opacity="1"/>
<ellipse cx="151.60" cy="1039.60" rx="1.60" ry="1.80" fill="#fef4e0" stroke="none" stroke-width="1" opacity="1"/>
<path d="M154.00 1038.60C155.00 1038.27 159.00 1036.93 160.00 1036.60" fill="none" stroke="#fbd27a" stroke-width="2.2" stroke-linecap="round" stroke-linejoin="round"/>
<path d="M363.51 1013.98C364.33 1014.19 366.00 1016.27 366.39 1017.16C366.77 1018.06 366.50 1019.81 366.37 1020.68C366.25 1021.54 366.03 1022.81 365.42 1023.64C364.82 1024.47 362.97 1026.45 361.84 1026.89C360.71 1027.33 357.97 1027.39 356.93 1026.97C355.90 1026.54 354.18 1024.65 354.09 1023.69C354.01 1022.72 355.47 1020.81 356.28 1019.74C357.10 1018.66 359.26 1016.40 360.22 1015.63C361.18 1014.86 362.68 1013.78 363.51 1013.98Z" fill="#f8c850" stroke="#f08c3c" stroke-width="1.4" stroke-linejoin="round"/>
<ellipse cx="363.40" cy="1017.60" rx="1.80" ry="3.00" fill="#fde0d4" stroke="none" stroke-width="1" opacity="1" transform="rotate(30 363.40 1017.60)"/>
<ellipse cx="358.90" cy="1023.00" rx="2.00" ry="2.20" fill="#c2e6a4" stroke="none" stroke-width="1" opacity="1"/>
<path d="M398.07 1029.88C398.05 1028.48 399.49 1025.60 400.24 1024.22C400.99 1022.85 402.28 1020.48 403.71 1019.54C405.13 1018.61 409.41 1017.28 410.91 1017.24C412.42 1017.20 414.08 1018.61 415.00 1019.27C415.92 1019.94 417.02 1022.03 417.85 1022.23C418.68 1022.42 420.24 1021.00 421.21 1020.75C422.17 1020.50 424.00 1020.30 425.10 1020.35C426.19 1020.40 428.43 1020.73 429.41 1021.14C430.40 1021.54 431.73 1022.37 432.46 1023.42C433.20 1024.47 434.86 1027.88 434.93 1029.01C434.99 1030.14 433.70 1031.37 432.93 1031.91C432.16 1032.44 430.34 1032.87 429.15 1033.03C427.95 1033.20 425.29 1033.17 423.98 1033.14C422.66 1033.11 420.23 1032.46 419.27 1032.78C418.32 1033.10 417.40 1034.81 416.81 1035.55C416.22 1036.29 415.70 1037.51 414.81 1038.33C413.93 1039.14 411.27 1041.31 410.15 1041.67C409.03 1042.04 407.26 1041.37 406.40 1041.06C405.54 1040.75 404.50 1040.19 403.71 1039.35C402.91 1038.52 401.18 1036.03 400.43 1034.77C399.68 1033.50 398.10 1031.29 398.07 1029.88Z" fill="#f8d868" stroke="#ee7d2e" stroke-width="1.5" stroke-linejoin="round"/>
<ellipse cx="428.60" cy="1027.20" rx="4.60" ry="3.80" fill="#fdf0c8" stroke="none" stroke-width="1" opacity="1"/>
<path d="M401.51 1029.94C401.42 1028.10 403.52 1024.13 404.70 1022.88C405.89 1021.63 408.98 1020.44 410.42 1020.53C411.85 1020.62 414.16 1023.15 415.46 1023.55C416.76 1023.96 419.04 1023.15 420.16 1023.55C421.28 1023.96 423.63 1025.68 423.86 1026.58C424.08 1027.47 422.78 1029.69 421.84 1030.27C420.90 1030.85 417.99 1030.27 416.80 1030.94C415.61 1031.62 413.94 1034.35 412.94 1035.31C411.93 1036.28 410.25 1037.99 409.24 1038.17C408.23 1038.35 406.41 1037.75 405.38 1036.66C404.35 1035.56 401.60 1031.77 401.51 1029.94Z" fill="#96d672"/>
<ellipse cx="419.60" cy="1026.80" rx="4.20" ry="2.60" fill="#d4f0cc" stroke="none" stroke-width="1" opacity="1" transform="rotate(-10 419.60 1026.80)"/>
<path d="M402.45 1030.00C402.35 1028.37 404.12 1025.43 405.21 1024.32C406.29 1023.21 408.57 1022.35 409.68 1022.60C410.79 1022.86 412.21 1024.75 412.60 1026.04C412.99 1027.33 412.70 1029.73 412.26 1031.20C411.82 1032.67 410.63 1035.25 409.68 1035.85C408.72 1036.44 406.98 1036.04 405.89 1035.16C404.81 1034.28 402.56 1031.63 402.45 1030.00Z" fill="#52c8b4"/>
<path d="M404.28 1030.00C404.22 1028.94 405.37 1027.03 406.08 1026.30C406.78 1025.58 408.27 1025.02 408.99 1025.18C409.71 1025.35 410.64 1026.58 410.89 1027.42C411.14 1028.26 410.95 1029.83 410.67 1030.78C410.38 1031.74 409.61 1033.42 408.99 1033.81C408.37 1034.19 407.23 1033.93 406.52 1033.36C405.82 1032.79 404.35 1031.06 404.28 1030.00Z" fill="#4a9ae0"/>
<path d="M405.87 1030.00C405.83 1029.43 406.45 1028.41 406.83 1028.02C407.21 1027.63 408.00 1027.33 408.39 1027.42C408.78 1027.51 409.27 1028.17 409.41 1028.62C409.54 1029.07 409.44 1029.91 409.29 1030.42C409.14 1030.93 408.72 1031.83 408.39 1032.04C408.06 1032.25 407.45 1032.11 407.07 1031.80C406.69 1031.49 405.91 1030.57 405.87 1030.00Z" fill="#3f7fe0"/>
<ellipse cx="407.90" cy="1030.30" rx="1.20" ry="1.40" fill="#ffffff" stroke="none" stroke-width="1" opacity="1"/>
<path d="M427.29 1047.22C428.17 1047.40 430.03 1049.08 430.96 1050.18C431.90 1051.29 433.43 1053.56 433.98 1055.10C434.53 1056.65 435.22 1059.87 434.91 1061.20C434.61 1062.53 432.92 1064.36 431.78 1064.61C430.64 1064.86 427.91 1063.87 426.76 1062.99C425.61 1062.11 424.08 1059.75 423.57 1058.33C423.07 1056.92 422.99 1054.22 423.15 1052.91C423.31 1051.60 424.12 1049.75 424.70 1048.95C425.28 1048.16 426.42 1047.05 427.29 1047.22Z" fill="#f8d058" stroke="#ee7d2e" stroke-width="1.4" stroke-linejoin="round"/>
<path d="M427.90 1051.30C428.38 1051.38 429.38 1052.21 429.90 1052.80C430.42 1053.39 431.31 1054.66 431.60 1055.50C431.89 1056.34 432.18 1058.09 432.00 1058.80C431.82 1059.51 430.92 1060.46 430.30 1060.60C429.68 1060.74 428.23 1060.26 427.60 1059.80C426.97 1059.34 426.08 1058.07 425.80 1057.30C425.52 1056.53 425.50 1055.01 425.60 1054.30C425.70 1053.59 426.18 1052.62 426.50 1052.20C426.82 1051.78 427.42 1051.22 427.90 1051.30Z" fill="#b0e090"/>
<path d="M428.32 1054.12C428.51 1054.15 428.91 1054.48 429.12 1054.72C429.33 1054.96 429.68 1055.46 429.80 1055.80C429.92 1056.14 430.03 1056.83 429.96 1057.12C429.89 1057.41 429.53 1057.78 429.28 1057.84C429.03 1057.90 428.45 1057.70 428.20 1057.52C427.95 1057.34 427.59 1056.83 427.48 1056.52C427.37 1056.21 427.36 1055.61 427.40 1055.32C427.44 1055.03 427.63 1054.65 427.76 1054.48C427.89 1054.31 428.13 1054.09 428.32 1054.12Z" fill="#6cc8a0"/>
<path d="M445.82 1034.54C446.36 1034.50 448.20 1036.79 448.85 1037.38C449.50 1037.97 450.71 1039.53 451.40 1039.62C452.10 1039.72 454.08 1038.59 454.81 1038.20C455.53 1037.81 457.07 1036.84 457.59 1036.25C458.12 1035.66 458.94 1033.79 459.29 1033.15C459.64 1032.51 460.23 1030.64 460.60 1030.75C460.96 1030.86 461.98 1033.18 462.39 1034.08C462.79 1034.97 463.71 1037.38 464.06 1038.43C464.41 1039.48 465.20 1042.00 465.38 1043.12C465.56 1044.23 465.93 1047.28 465.58 1047.99C465.23 1048.70 463.17 1049.01 462.41 1049.19C461.65 1049.36 459.84 1049.22 459.06 1049.48C458.27 1049.75 456.40 1050.92 455.69 1051.45C454.98 1051.99 453.65 1053.43 452.96 1054.07C452.26 1054.72 450.49 1056.40 449.74 1056.99C449.00 1057.58 447.34 1059.02 446.55 1059.12C445.76 1059.23 443.72 1058.36 442.98 1057.90C442.24 1057.44 440.74 1056.28 440.19 1055.21C439.65 1054.14 438.19 1049.84 438.31 1048.76C438.44 1047.68 440.52 1046.53 441.23 1045.98C441.94 1045.43 444.08 1044.64 444.42 1044.02C444.76 1043.41 444.16 1041.45 444.14 1040.72C444.12 1039.99 444.06 1038.46 444.25 1037.74C444.45 1037.02 445.29 1034.58 445.82 1034.54Z" fill="#f9da7c" stroke="#f0884a" stroke-width="1.4" stroke-linejoin="round"/>
<ellipse cx="444.60" cy="1051.20" rx="4.00" ry="4.80" fill="#fdf0d0" stroke="none" stroke-width="1" opacity="1" transform="rotate(20 444.60 1051.20)"/>
<ellipse cx="449.40" cy="1041.80" rx="2.60" ry="3.60" fill="#fdf0d0" stroke="none" stroke-width="1" opacity="1" transform="rotate(-30 449.40 1041.80)"/>
<ellipse cx="457.40" cy="1043.60" rx="5.40" ry="3.40" fill="#b4e096" stroke="none" stroke-width="1" opacity="1" transform="rotate(-8 457.40 1043.60)"/>
<ellipse cx="459.20" cy="1043.40" rx="2.60" ry="1.80" fill="#7ccf9a" stroke="none" stroke-width="1" opacity="1"/>
<path d="M473.80 1051.40C473.96 1051.98 475.14 1055.92 475.40 1057.20C475.66 1058.48 476.30 1063.50 476.40 1064.20" fill="none" stroke="#f0884a" stroke-width="5.6" stroke-linecap="round" stroke-linejoin="round"/>
<path d="M473.80 1051.40C473.96 1051.98 475.14 1055.92 475.40 1057.20C475.66 1058.48 476.30 1063.50 476.40 1064.20" fill="none" stroke="#fdeee0" stroke-width="3.2" stroke-linecap="round" stroke-linejoin="round"/>
<ellipse cx="484.50" cy="1043.10" rx="1.25" ry="1.75" fill="#e85a6a" stroke="none" stroke-width="1" opacity="1"/>
<ellipse cx="504.70" cy="1030.20" rx="1.05" ry="1.15" fill="#d890b0" stroke="none" stroke-width="1" opacity="1"/>
<ellipse cx="476.50" cy="971.10" rx="3.45" ry="2.25" fill="#fde6b8" stroke="#f09850" stroke-width="1.1" opacity="1" transform="rotate(-10 476.50 971.10)"/>
<ellipse cx="576.60" cy="958.30" rx="2.80" ry="1.70" fill="none" stroke="#ee7a5a" stroke-width="0.9" opacity="1" transform="rotate(10 576.60 958.30)"/>
<ellipse cx="544.60" cy="1051.60" rx="1.15" ry="4.05" fill="#e5583a" stroke="none" stroke-width="1" opacity="1"/>
<ellipse cx="667.40" cy="1038.80" rx="1.90" ry="4.20" fill="#f8d880" stroke="#ee7a3a" stroke-width="1.2" opacity="1"/>
<ellipse cx="612.40" cy="1108.70" rx="1.90" ry="1.10" fill="none" stroke="#ee7a5a" stroke-width="0.9" opacity="1" transform="rotate(-10 612.40 1108.70)"/>
<path d="M408.70 1088.42C409.12 1088.26 410.59 1089.44 410.88 1090.14C411.17 1090.84 411.02 1092.74 410.87 1093.65C410.72 1094.57 410.10 1096.74 409.74 1096.97C409.39 1097.21 408.51 1096.16 408.24 1095.42C407.97 1094.67 407.64 1092.32 407.70 1091.38C407.76 1090.45 408.27 1088.59 408.70 1088.42Z" fill="#fde6c0" stroke="#ee7d2e" stroke-width="1.4" stroke-linejoin="round"/>
</g>
<path d="M75.90 24.20V20.60M75.90 237.50V241.10" stroke="#9a9a9a" stroke-width="0.8"/>
<path d="M117.50 24.20V18.20M117.50 237.50V243.50" stroke="#1a1a1a" stroke-width="1.6"/>
<path d="M159.10 24.20V20.60M159.10 237.50V241.10" stroke="#9a9a9a" stroke-width="0.8"/>
<path d="M200.70 24.20V20.60M200.70 237.50V241.10" stroke="#9a9a9a" stroke-width="0.8"/>
<path d="M242.30 24.20V20.60M242.30 237.50V241.10" stroke="#9a9a9a" stroke-width="0.8"/>
<path d="M283.90 24.20V20.60M283.90 237.50V241.10" stroke="#9a9a9a" stroke-width="0.8"/>
<path d="M325.50 24.20V18.20M325.50 237.50V243.50" stroke="#1a1a1a" stroke-width="1.6"/>
<path d="M367.10 24.20V20.60M367.10 237.50V241.10" stroke="#9a9a9a" stroke-width="0.8"/>
<path d="M408.70 24.20V20.60M408.70 237.50V241.10" stroke="#9a9a9a" stroke-width="0.8"/>
<path d="M450.30 24.20V20.60M450.30 237.50V241.10" stroke="#9a9a9a" stroke-width="0.8"/>
<path d="M491.90 24.20V20.60M491.90 237.50V241.10" stroke="#9a9a9a" stroke-width="0.8"/>
<path d="M533.50 24.20V18.20M533.50 237.50V243.50" stroke="#1a1a1a" stroke-width="1.6"/>
<path d="M575.10 24.20V20.60M575.10 237.50V241.10" stroke="#9a9a9a" stroke-width="0.8"/>
<path d="M616.70 24.20V20.60M616.70 237.50V241.10" stroke="#9a9a9a" stroke-width="0.8"/>
<path d="M658.30 24.20V20.60M658.30 237.50V241.10" stroke="#9a9a9a" stroke-width="0.8"/>
<path d="M699.90 24.20V20.60M699.90 237.50V241.10" stroke="#9a9a9a" stroke-width="0.8"/>
<path d="M75.30 32.73H71.90M741.10 32.73H744.70" stroke="#9a9a9a" stroke-width="0.8"/>
<path d="M75.30 41.26H71.90M741.10 41.26H744.70" stroke="#9a9a9a" stroke-width="0.8"/>
<path d="M75.30 49.80H71.90M741.10 49.80H744.70" stroke="#9a9a9a" stroke-width="0.8"/>
<path d="M75.30 58.33H71.90M741.10 58.33H744.70" stroke="#9a9a9a" stroke-width="0.8"/>
<path d="M75.30 66.86H70.30M741.10 66.86H746.50" stroke="#1a1a1a" stroke-width="1.5"/>
<path d="M75.30 75.39H71.90M741.10 75.39H744.70" stroke="#9a9a9a" stroke-width="0.8"/>
<path d="M75.30 83.92H71.90M741.10 83.92H744.70" stroke="#9a9a9a" stroke-width="0.8"/>
<path d="M75.30 92.46H71.90M741.10 92.46H744.70" stroke="#9a9a9a" stroke-width="0.8"/>
<path d="M75.30 100.99H71.90M741.10 100.99H744.70" stroke="#9a9a9a" stroke-width="0.8"/>
<path d="M75.30 109.52H70.30M741.10 109.52H746.50" stroke="#1a1a1a" stroke-width="1.5"/>
<path d="M75.30 118.05H71.90M741.10 118.05H744.70" stroke="#9a9a9a" stroke-width="0.8"/>
<path d="M75.30 126.58H71.90M741.10 126.58H744.70" stroke="#9a9a9a" stroke-width="0.8"/>
<path d="M75.30 135.12H71.90M741.10 135.12H744.70" stroke="#9a9a9a" stroke-width="0.8"/>
<path d="M75.30 143.65H71.90M741.10 143.65H744.70" stroke="#9a9a9a" stroke-width="0.8"/>
<path d="M75.30 152.18H70.30M741.10 152.18H746.50" stroke="#1a1a1a" stroke-width="1.5"/>
<path d="M75.30 160.71H71.90M741.10 160.71H744.70" stroke="#9a9a9a" stroke-width="0.8"/>
<path d="M75.30 169.24H71.90M741.10 169.24H744.70" stroke="#9a9a9a" stroke-width="0.8"/>
<path d="M75.30 177.78H71.90M741.10 177.78H744.70" stroke="#9a9a9a" stroke-width="0.8"/>
<path d="M75.30 186.31H71.90M741.10 186.31H744.70" stroke="#9a9a9a" stroke-width="0.8"/>
<path d="M75.30 194.84H70.30M741.10 194.84H746.50" stroke="#1a1a1a" stroke-width="1.5"/>
<path d="M75.30 203.37H71.90M741.10 203.37H744.70" stroke="#9a9a9a" stroke-width="0.8"/>
<path d="M75.30 211.90H71.90M741.10 211.90H744.70" stroke="#9a9a9a" stroke-width="0.8"/>
<path d="M75.30 220.44H71.90M741.10 220.44H744.70" stroke="#9a9a9a" stroke-width="0.8"/>
<path d="M75.30 228.97H71.90M741.10 228.97H744.70" stroke="#9a9a9a" stroke-width="0.8"/>
<path d="M75.30 237.50H70.30M741.10 237.50H746.50" stroke="#1a1a1a" stroke-width="1.5"/>
<rect x="75.30" y="24.20" width="665.80" height="213.30" fill="none" stroke="#111" stroke-width="2.0"/>
<text x="119.90" y="15.70" font-size="18.8" text-anchor="middle" font-family='"Liberation Serif", serif' >11.5</text>
<text x="119.90" y="261.60" font-size="18.8" text-anchor="middle" font-family='"Liberation Serif", serif' >11.5</text>
<text x="327.90" y="15.70" font-size="18.8" text-anchor="middle" font-family='"Liberation Serif", serif' >11.0</text>
<text x="327.90" y="261.60" font-size="18.8" text-anchor="middle" font-family='"Liberation Serif", serif' >11.0</text>
<text x="535.90" y="15.70" font-size="18.8" text-anchor="middle" font-family='"Liberation Serif", serif' >10.5</text>
<text x="535.90" y="261.60" font-size="18.8" text-anchor="middle" font-family='"Liberation Serif", serif' >10.5</text>
<text x="743.90" y="15.70" font-size="18.8" text-anchor="middle" font-family='"Liberation Serif", serif' >10.0</text>
<text x="743.90" y="261.60" font-size="18.8" text-anchor="middle" font-family='"Liberation Serif", serif' >10.0</text>
<text x="68.40" y="72.86" font-size="18.8" text-anchor="end" font-family='"Liberation Serif", serif' textLength="27" lengthAdjust="spacingAndGlyphs">143</text>
<text x="752.80" y="72.86" font-size="18.8" text-anchor="start" font-family='"Liberation Serif", serif' textLength="27" lengthAdjust="spacingAndGlyphs">143</text>
<text x="68.40" y="115.52" font-size="18.8" text-anchor="end" font-family='"Liberation Serif", serif' textLength="27" lengthAdjust="spacingAndGlyphs">144</text>
<text x="752.80" y="115.52" font-size="18.8" text-anchor="start" font-family='"Liberation Serif", serif' textLength="27" lengthAdjust="spacingAndGlyphs">144</text>
<text x="68.40" y="158.18" font-size="18.8" text-anchor="end" font-family='"Liberation Serif", serif' textLength="27" lengthAdjust="spacingAndGlyphs">145</text>
<text x="752.80" y="158.18" font-size="18.8" text-anchor="start" font-family='"Liberation Serif", serif' textLength="27" lengthAdjust="spacingAndGlyphs">145</text>
<text x="68.40" y="200.84" font-size="18.8" text-anchor="end" font-family='"Liberation Serif", serif' textLength="27" lengthAdjust="spacingAndGlyphs">146</text>
<text x="752.80" y="200.84" font-size="18.8" text-anchor="start" font-family='"Liberation Serif", serif' textLength="27" lengthAdjust="spacingAndGlyphs">146</text>
<text x="68.40" y="243.50" font-size="18.8" text-anchor="end" font-family='"Liberation Serif", serif' textLength="27" lengthAdjust="spacingAndGlyphs">147</text>
<text x="752.80" y="243.50" font-size="18.8" text-anchor="start" font-family='"Liberation Serif", serif' textLength="27" lengthAdjust="spacingAndGlyphs">147</text>
<text x="86.20" y="55.00" font-size="25" text-anchor="start" font-family='"Liberation Serif", serif' >a)</text>
<text transform="translate(362.58 281.90) scale(0.895 1)" font-size="19.6" font-family='"Liberation Serif", serif'>W</text>
<text transform="translate(376.18 287.40) scale(1.02 1)" font-size="20.5" font-family='"Liberation Serif", serif'>2</text>
<rect x="388.70" y="280.20" width="5.4" height="1.9" fill="#111"/>
<text transform="translate(395.25 278.60) scale(0.72 1)" font-size="19.7" font-family='"Liberation Serif", serif'>1</text>
<text transform="translate(402.24 284.10) scale(0.986 1)" font-size="19.7" font-family='"Liberation Serif", serif'>H</text>
<text transform="translate(425.61 283.00) scale(1.015 1)" font-size="20" font-family='"Liberation Serif", serif'>(ppm)</text>
<text transform="translate(22.20 208.52) rotate(-90) scale(0.88 1)" font-size="20.4" font-family='"Liberation Serif", serif'>W</text>
<text transform="translate(26.50 191.01) rotate(-90) scale(0.7 1)" font-size="21.2" font-family='"Liberation Serif", serif'>1</text>
<rect x="16.6" y="176.30" width="2.5" height="4.6" fill="#111"/>
<text transform="translate(15.30 173.04) rotate(-90) scale(0.66 1)" font-size="19.7" font-family='"Liberation Serif", serif'>1</text>
<text transform="translate(15.50 165.59) rotate(-90) scale(1.04 1)" font-size="19.7" font-family='"Liberation Serif", serif'>5</text>
<text transform="translate(22.40 154.28) rotate(-90) scale(0.964 1)" font-size="20.6" font-family='"Liberation Serif", serif'>N</text>
<text transform="translate(22.00 130.68) rotate(-90) scale(1.0 1)" font-size="20" font-family='"Liberation Serif", serif'>(ppm)</text>
<path d="M75.90 325.70V322.10M75.90 540.10V543.70" stroke="#9a9a9a" stroke-width="0.8"/>
<path d="M117.50 325.70V319.70M117.50 540.10V546.10" stroke="#1a1a1a" stroke-width="1.6"/>
<path d="M159.10 325.70V322.10M159.10 540.10V543.70" stroke="#9a9a9a" stroke-width="0.8"/>
<path d="M200.70 325.70V322.10M200.70 540.10V543.70" stroke="#9a9a9a" stroke-width="0.8"/>
<path d="M242.30 325.70V322.10M242.30 540.10V543.70" stroke="#9a9a9a" stroke-width="0.8"/>
<path d="M283.90 325.70V322.10M283.90 540.10V543.70" stroke="#9a9a9a" stroke-width="0.8"/>
<path d="M325.50 325.70V319.70M325.50 540.10V546.10" stroke="#1a1a1a" stroke-width="1.6"/>
<path d="M367.10 325.70V322.10M367.10 540.10V543.70" stroke="#9a9a9a" stroke-width="0.8"/>
<path d="M408.70 325.70V322.10M408.70 540.10V543.70" stroke="#9a9a9a" stroke-width="0.8"/>
<path d="M450.30 325.70V322.10M450.30 540.10V543.70" stroke="#9a9a9a" stroke-width="0.8"/>
<path d="M491.90 325.70V322.10M491.90 540.10V543.70" stroke="#9a9a9a" stroke-width="0.8"/>
<path d="M533.50 325.70V319.70M533.50 540.10V546.10" stroke="#1a1a1a" stroke-width="1.6"/>
<path d="M575.10 325.70V322.10M575.10 540.10V543.70" stroke="#9a9a9a" stroke-width="0.8"/>
<path d="M616.70 325.70V322.10M616.70 540.10V543.70" stroke="#9a9a9a" stroke-width="0.8"/>
<path d="M658.30 325.70V322.10M658.30 540.10V543.70" stroke="#9a9a9a" stroke-width="0.8"/>
<path d="M699.90 325.70V322.10M699.90 540.10V543.70" stroke="#9a9a9a" stroke-width="0.8"/>
<path d="M75.30 334.28H71.90M742.90 334.28H746.50" stroke="#9a9a9a" stroke-width="0.8"/>
<path d="M75.30 342.85H71.90M742.90 342.85H746.50" stroke="#9a9a9a" stroke-width="0.8"/>
<path d="M75.30 351.43H71.90M742.90 351.43H746.50" stroke="#9a9a9a" stroke-width="0.8"/>
<path d="M75.30 360.00H71.90M742.90 360.00H746.50" stroke="#9a9a9a" stroke-width="0.8"/>
<path d="M75.30 368.58H70.30M742.90 368.58H748.30" stroke="#1a1a1a" stroke-width="1.5"/>
<path d="M75.30 377.16H71.90M742.90 377.16H746.50" stroke="#9a9a9a" stroke-width="0.8"/>
<path d="M75.30 385.73H71.90M742.90 385.73H746.50" stroke="#9a9a9a" stroke-width="0.8"/>
<path d="M75.30 394.31H71.90M742.90 394.31H746.50" stroke="#9a9a9a" stroke-width="0.8"/>
<path d="M75.30 402.88H71.90M742.90 402.88H746.50" stroke="#9a9a9a" stroke-width="0.8"/>
<path d="M75.30 411.46H70.30M742.90 411.46H748.30" stroke="#1a1a1a" stroke-width="1.5"/>
<path d="M75.30 420.04H71.90M742.90 420.04H746.50" stroke="#9a9a9a" stroke-width="0.8"/>
<path d="M75.30 428.61H71.90M742.90 428.61H746.50" stroke="#9a9a9a" stroke-width="0.8"/>
<path d="M75.30 437.19H71.90M742.90 437.19H746.50" stroke="#9a9a9a" stroke-width="0.8"/>
<path d="M75.30 445.76H71.90M742.90 445.76H746.50" stroke="#9a9a9a" stroke-width="0.8"/>
<path d="M75.30 454.34H70.30M742.90 454.34H748.30" stroke="#1a1a1a" stroke-width="1.5"/>
<path d="M75.30 462.92H71.90M742.90 462.92H746.50" stroke="#9a9a9a" stroke-width="0.8"/>
<path d="M75.30 471.49H71.90M742.90 471.49H746.50" stroke="#9a9a9a" stroke-width="0.8"/>
<path d="M75.30 480.07H71.90M742.90 480.07H746.50" stroke="#9a9a9a" stroke-width="0.8"/>
<path d="M75.30 488.64H71.90M742.90 488.64H746.50" stroke="#9a9a9a" stroke-width="0.8"/>
<path d="M75.30 497.22H70.30M742.90 497.22H748.30" stroke="#1a1a1a" stroke-width="1.5"/>
<path d="M75.30 505.80H71.90M742.90 505.80H746.50" stroke="#9a9a9a" stroke-width="0.8"/>
<path d="M75.30 514.37H71.90M742.90 514.37H746.50" stroke="#9a9a9a" stroke-width="0.8"/>
<path d="M75.30 522.95H71.90M742.90 522.95H746.50" stroke="#9a9a9a" stroke-width="0.8"/>
<path d="M75.30 531.52H71.90M742.90 531.52H746.50" stroke="#9a9a9a" stroke-width="0.8"/>
<path d="M75.30 540.10H70.30M742.90 540.10H748.30" stroke="#1a1a1a" stroke-width="1.5"/>
<rect x="75.30" y="325.70" width="667.60" height="214.40" fill="none" stroke="#111" stroke-width="2.0"/>
<text x="119.90" y="317.90" font-size="18.8" text-anchor="middle" font-family='"Liberation Serif", serif' >11.5</text>
<text x="119.90" y="564.20" font-size="18.8" text-anchor="middle" font-family='"Liberation Serif", serif' >11.5</text>
<text x="327.90" y="317.90" font-size="18.8" text-anchor="middle" font-family='"Liberation Serif", serif' >11.0</text>
<text x="327.90" y="564.20" font-size="18.8" text-anchor="middle" font-family='"Liberation Serif", serif' >11.0</text>
<text x="535.90" y="317.90" font-size="18.8" text-anchor="middle" font-family='"Liberation Serif", serif' >10.5</text>
<text x="535.90" y="564.20" font-size="18.8" text-anchor="middle" font-family='"Liberation Serif", serif' >10.5</text>
<text x="743.90" y="317.90" font-size="18.8" text-anchor="middle" font-family='"Liberation Serif", serif' >10.0</text>
<text x="743.90" y="564.20" font-size="18.8" text-anchor="middle" font-family='"Liberation Serif", serif' >10.0</text>
<text x="68.40" y="331.70" font-size="18.8" text-anchor="end" font-family='"Liberation Serif", serif' textLength="27" lengthAdjust="spacingAndGlyphs">142</text>
<text x="752.80" y="331.70" font-size="18.8" text-anchor="start" font-family='"Liberation Serif", serif' textLength="27" lengthAdjust="spacingAndGlyphs">142</text>
<text x="68.40" y="374.58" font-size="18.8" text-anchor="end" font-family='"Liberation Serif", serif' textLength="27" lengthAdjust="spacingAndGlyphs">143</text>
<text x="752.80" y="374.58" font-size="18.8" text-anchor="start" font-family='"Liberation Serif", serif' textLength="27" lengthAdjust="spacingAndGlyphs">143</text>
<text x="68.40" y="417.46" font-size="18.8" text-anchor="end" font-family='"Liberation Serif", serif' textLength="27" lengthAdjust="spacingAndGlyphs">144</text>
<text x="752.80" y="417.46" font-size="18.8" text-anchor="start" font-family='"Liberation Serif", serif' textLength="27" lengthAdjust="spacingAndGlyphs">144</text>
<text x="68.40" y="460.34" font-size="18.8" text-anchor="end" font-family='"Liberation Serif", serif' textLength="27" lengthAdjust="spacingAndGlyphs">145</text>
<text x="752.80" y="460.34" font-size="18.8" text-anchor="start" font-family='"Liberation Serif", serif' textLength="27" lengthAdjust="spacingAndGlyphs">145</text>
<text x="68.40" y="503.22" font-size="18.8" text-anchor="end" font-family='"Liberation Serif", serif' textLength="27" lengthAdjust="spacingAndGlyphs">146</text>
<text x="752.80" y="503.22" font-size="18.8" text-anchor="start" font-family='"Liberation Serif", serif' textLength="27" lengthAdjust="spacingAndGlyphs">146</text>
<text x="68.40" y="546.10" font-size="18.8" text-anchor="end" font-family='"Liberation Serif", serif' textLength="27" lengthAdjust="spacingAndGlyphs">147</text>
<text x="752.80" y="546.10" font-size="18.8" text-anchor="start" font-family='"Liberation Serif", serif' textLength="27" lengthAdjust="spacingAndGlyphs">147</text>
<text x="87.50" y="356.50" font-size="25" text-anchor="start" font-family='"Liberation Serif", serif' >b)</text>
<text transform="translate(370.18 578.50) scale(0.895 1)" font-size="19.6" font-family='"Liberation Serif", serif'>W</text>
<text transform="translate(383.78 584.00) scale(1.02 1)" font-size="20.5" font-family='"Liberation Serif", serif'>2</text>
<rect x="396.30" y="576.80" width="5.4" height="1.9" fill="#111"/>
<text transform="translate(402.85 575.20) scale(0.72 1)" font-size="19.7" font-family='"Liberation Serif", serif'>1</text>
<text transform="translate(409.84 580.70) scale(0.986 1)" font-size="19.7" font-family='"Liberation Serif", serif'>H</text>
<text transform="translate(433.21 579.60) scale(1.015 1)" font-size="20" font-family='"Liberation Serif", serif'>(ppm)</text>
<text transform="translate(22.20 478.22) rotate(-90) scale(0.88 1)" font-size="20.4" font-family='"Liberation Serif", serif'>W</text>
<text transform="translate(26.50 460.71) rotate(-90) scale(0.7 1)" font-size="21.2" font-family='"Liberation Serif", serif'>1</text>
<rect x="16.6" y="446.00" width="2.5" height="4.6" fill="#111"/>
<text transform="translate(15.30 442.74) rotate(-90) scale(0.66 1)" font-size="19.7" font-family='"Liberation Serif", serif'>1</text>
<text transform="translate(15.50 435.29) rotate(-90) scale(1.04 1)" font-size="19.7" font-family='"Liberation Serif", serif'>5</text>
<text transform="translate(22.40 423.98) rotate(-90) scale(0.964 1)" font-size="20.6" font-family='"Liberation Serif", serif'>N</text>
<text transform="translate(22.00 400.38) rotate(-90) scale(1.0 1)" font-size="20" font-family='"Liberation Serif", serif'>(ppm)</text>
<path d="M75.90 628.00V624.40M75.90 842.30V845.90" stroke="#9a9a9a" stroke-width="0.8"/>
<path d="M117.50 628.00V622.00M117.50 842.30V848.30" stroke="#1a1a1a" stroke-width="1.6"/>
<path d="M159.10 628.00V624.40M159.10 842.30V845.90" stroke="#9a9a9a" stroke-width="0.8"/>
<path d="M200.70 628.00V624.40M200.70 842.30V845.90" stroke="#9a9a9a" stroke-width="0.8"/>
<path d="M242.30 628.00V624.40M242.30 842.30V845.90" stroke="#9a9a9a" stroke-width="0.8"/>
<path d="M283.90 628.00V624.40M283.90 842.30V845.90" stroke="#9a9a9a" stroke-width="0.8"/>
<path d="M325.50 628.00V622.00M325.50 842.30V848.30" stroke="#1a1a1a" stroke-width="1.6"/>
<path d="M367.10 628.00V624.40M367.10 842.30V845.90" stroke="#9a9a9a" stroke-width="0.8"/>
<path d="M408.70 628.00V624.40M408.70 842.30V845.90" stroke="#9a9a9a" stroke-width="0.8"/>
<path d="M450.30 628.00V624.40M450.30 842.30V845.90" stroke="#9a9a9a" stroke-width="0.8"/>
<path d="M491.90 628.00V624.40M491.90 842.30V845.90" stroke="#9a9a9a" stroke-width="0.8"/>
<path d="M533.50 628.00V622.00M533.50 842.30V848.30" stroke="#1a1a1a" stroke-width="1.6"/>
<path d="M575.10 628.00V624.40M575.10 842.30V845.90" stroke="#9a9a9a" stroke-width="0.8"/>
<path d="M616.70 628.00V624.40M616.70 842.30V845.90" stroke="#9a9a9a" stroke-width="0.8"/>
<path d="M658.30 628.00V624.40M658.30 842.30V845.90" stroke="#9a9a9a" stroke-width="0.8"/>
<path d="M699.90 628.00V624.40M699.90 842.30V845.90" stroke="#9a9a9a" stroke-width="0.8"/>
<path d="M75.30 636.57H71.90M742.90 636.57H746.50" stroke="#9a9a9a" stroke-width="0.8"/>
<path d="M75.30 645.14H71.90M742.90 645.14H746.50" stroke="#9a9a9a" stroke-width="0.8"/>
<path d="M75.30 653.72H71.90M742.90 653.72H746.50" stroke="#9a9a9a" stroke-width="0.8"/>
<path d="M75.30 662.29H71.90M742.90 662.29H746.50" stroke="#9a9a9a" stroke-width="0.8"/>
<path d="M75.30 670.86H70.30M742.90 670.86H748.30" stroke="#1a1a1a" stroke-width="1.5"/>
<path d="M75.30 679.43H71.90M742.90 679.43H746.50" stroke="#9a9a9a" stroke-width="0.8"/>
<path d="M75.30 688.00H71.90M742.90 688.00H746.50" stroke="#9a9a9a" stroke-width="0.8"/>
<path d="M75.30 696.58H71.90M742.90 696.58H746.50" stroke="#9a9a9a" stroke-width="0.8"/>
<path d="M75.30 705.15H71.90M742.90 705.15H746.50" stroke="#9a9a9a" stroke-width="0.8"/>
<path d="M75.30 713.72H70.30M742.90 713.72H748.30" stroke="#1a1a1a" stroke-width="1.5"/>
<path d="M75.30 722.29H71.90M742.90 722.29H746.50" stroke="#9a9a9a" stroke-width="0.8"/>
<path d="M75.30 730.86H71.90M742.90 730.86H746.50" stroke="#9a9a9a" stroke-width="0.8"/>
<path d="M75.30 739.44H71.90M742.90 739.44H746.50" stroke="#9a9a9a" stroke-width="0.8"/>
<path d="M75.30 748.01H71.90M742.90 748.01H746.50" stroke="#9a9a9a" stroke-width="0.8"/>
<path d="M75.30 756.58H70.30M742.90 756.58H748.30" stroke="#1a1a1a" stroke-width="1.5"/>
<path d="M75.30 765.15H71.90M742.90 765.15H746.50" stroke="#9a9a9a" stroke-width="0.8"/>
<path d="M75.30 773.72H71.90M742.90 773.72H746.50" stroke="#9a9a9a" stroke-width="0.8"/>
<path d="M75.30 782.30H71.90M742.90 782.30H746.50" stroke="#9a9a9a" stroke-width="0.8"/>
<path d="M75.30 790.87H71.90M742.90 790.87H746.50" stroke="#9a9a9a" stroke-width="0.8"/>
<path d="M75.30 799.44H70.30M742.90 799.44H748.30" stroke="#1a1a1a" stroke-width="1.5"/>
<path d="M75.30 808.01H71.90M742.90 808.01H746.50" stroke="#9a9a9a" stroke-width="0.8"/>
<path d="M75.30 816.58H71.90M742.90 816.58H746.50" stroke="#9a9a9a" stroke-width="0.8"/>
<path d="M75.30 825.16H71.90M742.90 825.16H746.50" stroke="#9a9a9a" stroke-width="0.8"/>
<path d="M75.30 833.73H71.90M742.90 833.73H746.50" stroke="#9a9a9a" stroke-width="0.8"/>
<path d="M75.30 842.30H70.30M742.90 842.30H748.30" stroke="#1a1a1a" stroke-width="1.5"/>
<rect x="75.30" y="628.00" width="667.60" height="214.30" fill="none" stroke="#111" stroke-width="2.0"/>
<text x="119.90" y="620.40" font-size="18.8" text-anchor="middle" font-family='"Liberation Serif", serif' >11.5</text>
<text x="119.90" y="866.40" font-size="18.8" text-anchor="middle" font-family='"Liberation Serif", serif' >11.5</text>
<text x="327.90" y="620.40" font-size="18.8" text-anchor="middle" font-family='"Liberation Serif", serif' >11.0</text>
<text x="327.90" y="866.40" font-size="18.8" text-anchor="middle" font-family='"Liberation Serif", serif' >11.0</text>
<text x="535.90" y="620.40" font-size="18.8" text-anchor="middle" font-family='"Liberation Serif", serif' >10.5</text>
<text x="535.90" y="866.40" font-size="18.8" text-anchor="middle" font-family='"Liberation Serif", serif' >10.5</text>
<text x="743.90" y="620.40" font-size="18.8" text-anchor="middle" font-family='"Liberation Serif", serif' >10.0</text>
<text x="743.90" y="866.40" font-size="18.8" text-anchor="middle" font-family='"Liberation Serif", serif' >10.0</text>
<text x="68.40" y="634.00" font-size="18.8" text-anchor="end" font-family='"Liberation Serif", serif' textLength="27" lengthAdjust="spacingAndGlyphs">142</text>
<text x="752.80" y="634.00" font-size="18.8" text-anchor="start" font-family='"Liberation Serif", serif' textLength="27" lengthAdjust="spacingAndGlyphs">142</text>
<text x="68.40" y="676.86" font-size="18.8" text-anchor="end" font-family='"Liberation Serif", serif' textLength="27" lengthAdjust="spacingAndGlyphs">143</text>
<text x="752.80" y="676.86" font-size="18.8" text-anchor="start" font-family='"Liberation Serif", serif' textLength="27" lengthAdjust="spacingAndGlyphs">143</text>
<text x="68.40" y="719.72" font-size="18.8" text-anchor="end" font-family='"Liberation Serif", serif' textLength="27" lengthAdjust="spacingAndGlyphs">144</text>
<text x="752.80" y="719.72" font-size="18.8" text-anchor="start" font-family='"Liberation Serif", serif' textLength="27" lengthAdjust="spacingAndGlyphs">144</text>
<text x="68.40" y="762.58" font-size="18.8" text-anchor="end" font-family='"Liberation Serif", serif' textLength="27" lengthAdjust="spacingAndGlyphs">145</text>
<text x="752.80" y="762.58" font-size="18.8" text-anchor="start" font-family='"Liberation Serif", serif' textLength="27" lengthAdjust="spacingAndGlyphs">145</text>
<text x="68.40" y="805.44" font-size="18.8" text-anchor="end" font-family='"Liberation Serif", serif' textLength="27" lengthAdjust="spacingAndGlyphs">146</text>
<text x="752.80" y="805.44" font-size="18.8" text-anchor="start" font-family='"Liberation Serif", serif' textLength="27" lengthAdjust="spacingAndGlyphs">146</text>
<text x="68.40" y="848.30" font-size="18.8" text-anchor="end" font-family='"Liberation Serif", serif' textLength="27" lengthAdjust="spacingAndGlyphs">147</text>
<text x="752.80" y="848.30" font-size="18.8" text-anchor="start" font-family='"Liberation Serif", serif' textLength="27" lengthAdjust="spacingAndGlyphs">147</text>
<text x="86.20" y="658.80" font-size="25" text-anchor="start" font-family='"Liberation Serif", serif' >c)</text>
<text transform="translate(367.88 883.90) scale(0.895 1)" font-size="19.6" font-family='"Liberation Serif", serif'>W</text>
<text transform="translate(381.48 889.40) scale(1.02 1)" font-size="20.5" font-family='"Liberation Serif", serif'>2</text>
<rect x="394.00" y="882.20" width="5.4" height="1.9" fill="#111"/>
<text transform="translate(400.55 880.60) scale(0.72 1)" font-size="19.7" font-family='"Liberation Serif", serif'>1</text>
<text transform="translate(407.54 886.10) scale(0.986 1)" font-size="19.7" font-family='"Liberation Serif", serif'>H</text>
<text transform="translate(430.91 885.00) scale(1.015 1)" font-size="20" font-family='"Liberation Serif", serif'>(ppm)</text>
<text transform="translate(22.20 782.32) rotate(-90) scale(0.88 1)" font-size="20.4" font-family='"Liberation Serif", serif'>W</text>
<text transform="translate(26.50 764.81) rotate(-90) scale(0.7 1)" font-size="21.2" font-family='"Liberation Serif", serif'>1</text>
<rect x="16.6" y="750.10" width="2.5" height="4.6" fill="#111"/>
<text transform="translate(15.30 746.84) rotate(-90) scale(0.66 1)" font-size="19.7" font-family='"Liberation Serif", serif'>1</text>
<text transform="translate(15.50 739.39) rotate(-90) scale(1.04 1)" font-size="19.7" font-family='"Liberation Serif", serif'>5</text>
<text transform="translate(22.40 728.08) rotate(-90) scale(0.964 1)" font-size="20.6" font-family='"Liberation Serif", serif'>N</text>
<text transform="translate(22.00 704.48) rotate(-90) scale(1.0 1)" font-size="20" font-family='"Liberation Serif", serif'>(ppm)</text>
<path d="M75.90 911.00V907.40M75.90 1125.60V1129.20" stroke="#9a9a9a" stroke-width="0.8"/>
<path d="M117.50 911.00V905.00M117.50 1125.60V1131.60" stroke="#1a1a1a" stroke-width="1.6"/>
<path d="M159.10 911.00V907.40M159.10 1125.60V1129.20" stroke="#9a9a9a" stroke-width="0.8"/>
<path d="M200.70 911.00V907.40M200.70 1125.60V1129.20" stroke="#9a9a9a" stroke-width="0.8"/>
<path d="M242.30 911.00V907.40M242.30 1125.60V1129.20" stroke="#9a9a9a" stroke-width="0.8"/>
<path d="M283.90 911.00V907.40M283.90 1125.60V1129.20" stroke="#9a9a9a" stroke-width="0.8"/>
<path d="M325.50 911.00V905.00M325.50 1125.60V1131.60" stroke="#1a1a1a" stroke-width="1.6"/>
<path d="M367.10 911.00V907.40M367.10 1125.60V1129.20" stroke="#9a9a9a" stroke-width="0.8"/>
<path d="M408.70 911.00V907.40M408.70 1125.60V1129.20" stroke="#9a9a9a" stroke-width="0.8"/>
<path d="M450.30 911.00V907.40M450.30 1125.60V1129.20" stroke="#9a9a9a" stroke-width="0.8"/>
<path d="M491.90 911.00V907.40M491.90 1125.60V1129.20" stroke="#9a9a9a" stroke-width="0.8"/>
<path d="M533.50 911.00V905.00M533.50 1125.60V1131.60" stroke="#1a1a1a" stroke-width="1.6"/>
<path d="M575.10 911.00V907.40M575.10 1125.60V1129.20" stroke="#9a9a9a" stroke-width="0.8"/>
<path d="M616.70 911.00V907.40M616.70 1125.60V1129.20" stroke="#9a9a9a" stroke-width="0.8"/>
<path d="M658.30 911.00V907.40M658.30 1125.60V1129.20" stroke="#9a9a9a" stroke-width="0.8"/>
<path d="M699.90 911.00V907.40M699.90 1125.60V1129.20" stroke="#9a9a9a" stroke-width="0.8"/>
<path d="M75.30 919.58H71.90M742.90 919.58H746.50" stroke="#9a9a9a" stroke-width="0.8"/>
<path d="M75.30 928.17H71.90M742.90 928.17H746.50" stroke="#9a9a9a" stroke-width="0.8"/>
<path d="M75.30 936.75H71.90M742.90 936.75H746.50" stroke="#9a9a9a" stroke-width="0.8"/>
<path d="M75.30 945.34H71.90M742.90 945.34H746.50" stroke="#9a9a9a" stroke-width="0.8"/>
<path d="M75.30 953.92H70.30M742.90 953.92H748.30" stroke="#1a1a1a" stroke-width="1.5"/>
<path d="M75.30 962.50H71.90M742.90 962.50H746.50" stroke="#9a9a9a" stroke-width="0.8"/>
<path d="M75.30 971.09H71.90M742.90 971.09H746.50" stroke="#9a9a9a" stroke-width="0.8"/>
<path d="M75.30 979.67H71.90M742.90 979.67H746.50" stroke="#9a9a9a" stroke-width="0.8"/>
<path d="M75.30 988.26H71.90M742.90 988.26H746.50" stroke="#9a9a9a" stroke-width="0.8"/>
<path d="M75.30 996.84H70.30M742.90 996.84H748.30" stroke="#1a1a1a" stroke-width="1.5"/>
<path d="M75.30 1005.42H71.90M742.90 1005.42H746.50" stroke="#9a9a9a" stroke-width="0.8"/>
<path d="M75.30 1014.01H71.90M742.90 1014.01H746.50" stroke="#9a9a9a" stroke-width="0.8"/>
<path d="M75.30 1022.59H71.90M742.90 1022.59H746.50" stroke="#9a9a9a" stroke-width="0.8"/>
<path d="M75.30 1031.18H71.90M742.90 1031.18H746.50" stroke="#9a9a9a" stroke-width="0.8"/>
<path d="M75.30 1039.76H70.30M742.90 1039.76H748.30" stroke="#1a1a1a" stroke-width="1.5"/>
<path d="M75.30 1048.34H71.90M742.90 1048.34H746.50" stroke="#9a9a9a" stroke-width="0.8"/>
<path d="M75.30 1056.93H71.90M742.90 1056.93H746.50" stroke="#9a9a9a" stroke-width="0.8"/>
<path d="M75.30 1065.51H71.90M742.90 1065.51H746.50" stroke="#9a9a9a" stroke-width="0.8"/>
<path d="M75.30 1074.10H71.90M742.90 1074.10H746.50" stroke="#9a9a9a" stroke-width="0.8"/>
<path d="M75.30 1082.68H70.30M742.90 1082.68H748.30" stroke="#1a1a1a" stroke-width="1.5"/>
<path d="M75.30 1091.26H71.90M742.90 1091.26H746.50" stroke="#9a9a9a" stroke-width="0.8"/>
<path d="M75.30 1099.85H71.90M742.90 1099.85H746.50" stroke="#9a9a9a" stroke-width="0.8"/>
<path d="M75.30 1108.43H71.90M742.90 1108.43H746.50" stroke="#9a9a9a" stroke-width="0.8"/>
<path d="M75.30 1117.02H71.90M742.90 1117.02H746.50" stroke="#9a9a9a" stroke-width="0.8"/>
<path d="M75.30 1125.60H70.30M742.90 1125.60H748.30" stroke="#1a1a1a" stroke-width="1.5"/>
<rect x="75.30" y="911.00" width="667.60" height="214.60" fill="none" stroke="#111" stroke-width="2.0"/>
<text x="119.90" y="903.60" font-size="18.8" text-anchor="middle" font-family='"Liberation Serif", serif' >11.5</text>
<text x="119.90" y="1149.70" font-size="18.8" text-anchor="middle" font-family='"Liberation Serif", serif' >11.5</text>
<text x="327.90" y="903.60" font-size="18.8" text-anchor="middle" font-family='"Liberation Serif", serif' >11.0</text>
<text x="327.90" y="1149.70" font-size="18.8" text-anchor="middle" font-family='"Liberation Serif", serif' >11.0</text>
<text x="535.90" y="903.60" font-size="18.8" text-anchor="middle" font-family='"Liberation Serif", serif' >10.5</text>
<text x="535.90" y="1149.70" font-size="18.8" text-anchor="middle" font-family='"Liberation Serif", serif' >10.5</text>
<text x="743.90" y="903.60" font-size="18.8" text-anchor="middle" font-family='"Liberation Serif", serif' >10.0</text>
<text x="743.90" y="1149.70" font-size="18.8" text-anchor="middle" font-family='"Liberation Serif", serif' >10.0</text>
<text x="68.40" y="917.00" font-size="18.8" text-anchor="end" font-family='"Liberation Serif", serif' textLength="27" lengthAdjust="spacingAndGlyphs">142</text>
<text x="752.80" y="917.00" font-size="18.8" text-anchor="start" font-family='"Liberation Serif", serif' textLength="27" lengthAdjust="spacingAndGlyphs">142</text>
<text x="68.40" y="959.92" font-size="18.8" text-anchor="end" font-family='"Liberation Serif", serif' textLength="27" lengthAdjust="spacingAndGlyphs">143</text>
<text x="752.80" y="959.92" font-size="18.8" text-anchor="start" font-family='"Liberation Serif", serif' textLength="27" lengthAdjust="spacingAndGlyphs">143</text>
<text x="68.40" y="1002.84" font-size="18.8" text-anchor="end" font-family='"Liberation Serif", serif' textLength="27" lengthAdjust="spacingAndGlyphs">144</text>
<text x="752.80" y="1002.84" font-size="18.8" text-anchor="start" font-family='"Liberation Serif", serif' textLength="27" lengthAdjust="spacingAndGlyphs">144</text>
<text x="68.40" y="1045.76" font-size="18.8" text-anchor="end" font-family='"Liberation Serif", serif' textLength="27" lengthAdjust="spacingAndGlyphs">145</text>
<text x="752.80" y="1045.76" font-size="18.8" text-anchor="start" font-family='"Liberation Serif", serif' textLength="27" lengthAdjust="spacingAndGlyphs">145</text>
<text x="68.40" y="1088.68" font-size="18.8" text-anchor="end" font-family='"Liberation Serif", serif' textLength="27" lengthAdjust="spacingAndGlyphs">146</text>
<text x="752.80" y="1088.68" font-size="18.8" text-anchor="start" font-family='"Liberation Serif", serif' textLength="27" lengthAdjust="spacingAndGlyphs">146</text>
<text x="68.40" y="1131.60" font-size="18.8" text-anchor="end" font-family='"Liberation Serif", serif' textLength="27" lengthAdjust="spacingAndGlyphs">147</text>
<text x="752.80" y="1131.60" font-size="18.8" text-anchor="start" font-family='"Liberation Serif", serif' textLength="27" lengthAdjust="spacingAndGlyphs">147</text>
<text x="86.20" y="941.80" font-size="25" text-anchor="start" font-family='"Liberation Serif", serif' >d)</text>
<text transform="translate(367.48 1167.30) scale(0.895 1)" font-size="19.6" font-family='"Liberation Serif", serif'>W</text>
<text transform="translate(381.08 1172.80) scale(1.02 1)" font-size="20.5" font-family='"Liberation Serif", serif'>2</text>
<rect x="393.60" y="1165.60" width="5.4" height="1.9" fill="#111"/>
<text transform="translate(400.15 1164.00) scale(0.72 1)" font-size="19.7" font-family='"Liberation Serif", serif'>1</text>
<text transform="translate(407.14 1169.50) scale(0.986 1)" font-size="19.7" font-family='"Liberation Serif", serif'>H</text>
<text transform="translate(430.51 1168.40) scale(1.015 1)" font-size="20" font-family='"Liberation Serif", serif'>(ppm)</text>
<text transform="translate(22.20 1065.22) rotate(-90) scale(0.88 1)" font-size="20.4" font-family='"Liberation Serif", serif'>W</text>
<text transform="translate(26.50 1047.71) rotate(-90) scale(0.7 1)" font-size="21.2" font-family='"Liberation Serif", serif'>1</text>
<rect x="16.6" y="1033.00" width="2.5" height="4.6" fill="#111"/>
<text transform="translate(15.30 1029.74) rotate(-90) scale(0.66 1)" font-size="19.7" font-family='"Liberation Serif", serif'>1</text>
<text transform="translate(15.50 1022.29) rotate(-90) scale(1.04 1)" font-size="19.7" font-family='"Liberation Serif", serif'>5</text>
<text transform="translate(22.40 1010.98) rotate(-90) scale(0.964 1)" font-size="20.6" font-family='"Liberation Serif", serif'>N</text>
<text transform="translate(22.00 987.38) rotate(-90) scale(1.0 1)" font-size="20" font-family='"Liberation Serif", serif'>(ppm)</text>
</svg>
</body></html>
